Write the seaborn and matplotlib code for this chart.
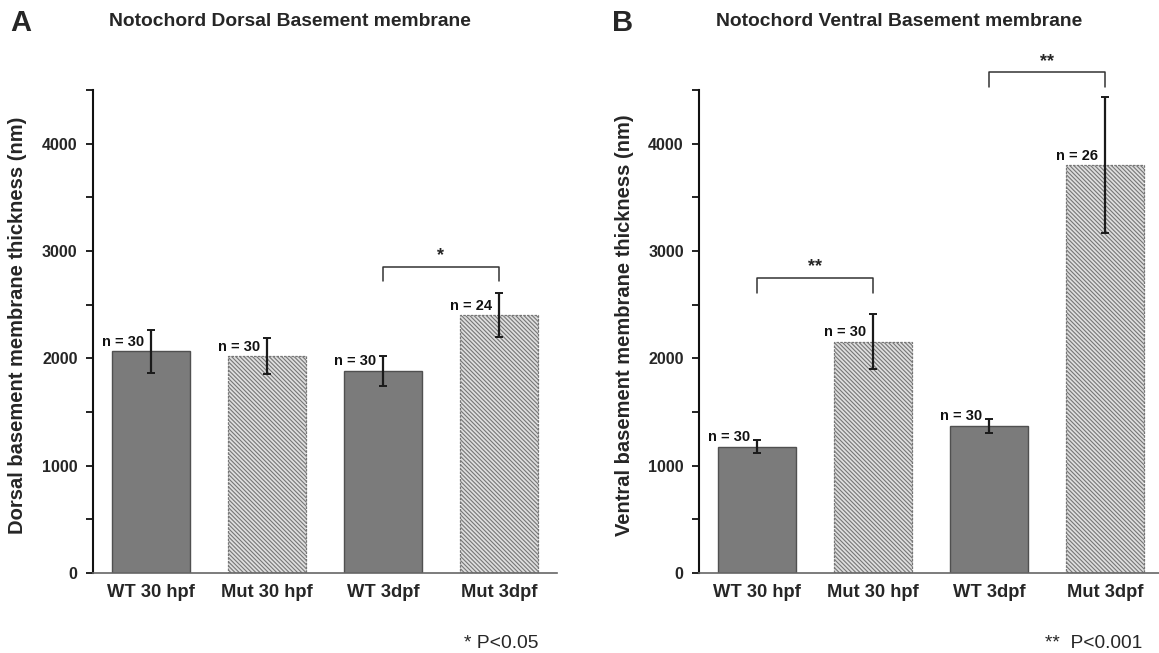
import matplotlib
matplotlib.use('Agg')
import matplotlib.pyplot as plt
import seaborn as sns
import pandas as pd
from matplotlib.ticker import MultipleLocator

# Données
groups = ['WT 30 hpf', 'Mut 30 hpf', 'WT 3dpf', 'Mut 3dpf']
dorsal_mean = [2065, 2020, 1885, 2400]
dorsal_err = [200, 170, 140, 205]
dorsal_n = [30, 30, 30, 24]
ventral_mean = [1178, 2155, 1371, 3800]
ventral_err = [60, 255, 68, 635]
ventral_n = [30, 30, 30, 26]

sns.set_style('ticks')
plt.rcParams['font.family'] = ['Liberation Sans', 'DejaVu Sans']
plt.rcParams['hatch.linewidth'] = 0.8
plt.rcParams['hatch.color'] = '#767676'

solid = '#7b7b7b'
palette = {'WT 30 hpf': solid, 'Mut 30 hpf': '#dedede', 'WT 3dpf': solid, 'Mut 3dpf': '#dedede'}

fig = plt.figure(figsize=(11.59, 6.53), dpi=100)
ax_a = fig.add_axes([0.0802, 0.1225, 0.4003, 0.7397])
ax_b = fig.add_axes([0.6031, 0.1225, 0.3969, 0.7397])


def draw_panel(ax, means, errs, ns, ylabel, xmax, xlab):
    df = pd.DataFrame({'group': groups, 'value': means})
    sns.barplot(data=df, x='group', y='value', hue='group', palette=palette,
                saturation=1, width=0.67, errorbar=None, legend=False, ax=ax, zorder=2)
    for i, p in enumerate(ax.patches):
        if i % 2 == 1:
            p.set_hatch('\\' * 8)
            p.set_edgecolor('#767676')
            p.set_linestyle((0, (2, 1)))
            p.set_linewidth(0.9)
        else:
            p.set_edgecolor('#505050')
            p.set_linewidth(1.0)
    ax.errorbar(range(len(groups)), means, yerr=errs, fmt='none',
                ecolor='#1a1a1a', elinewidth=1.6, capsize=3, capthick=1.4, zorder=3)
    for i, (m, n) in enumerate(zip(means, ns)):
        ax.text(i - 0.06, m + 88, f'n = {n}', ha='right', va='center',
                fontsize=10.5, fontweight='bold', color='#111111')

    ax.set_xlim(-0.5, xmax)
    ax.set_ylim(0, 4500)
    ax.yaxis.set_major_locator(MultipleLocator(1000))
    ax.yaxis.set_minor_locator(MultipleLocator(500))
    ax.tick_params(axis='y', which='both', direction='out', length=5, width=1.3,
                   color='#111111', labelsize=11.5, pad=6)
    ax.tick_params(axis='x', length=0, labelsize=13.2, pad=8)
    for lab in ax.get_yticklabels() + ax.get_xticklabels():
        lab.set_fontweight('bold')
    ax.set_xlabel('')
    ax.set_ylabel(ylabel, fontsize=14.5, fontweight='bold')
    ax.yaxis.set_label_coords(xlab, 0.513)
    sns.despine(ax=ax)
    ax.spines['left'].set_linewidth(1.5)
    ax.spines['left'].set_color('#111111')
    ax.spines['bottom'].set_linewidth(1.2)
    ax.spines['bottom'].set_color('#666666')


def bracket(ax, x0, x1, y, drop, label, ylab):
    ax.plot([x0, x0, x1, x1], [y - drop, y, y, y - drop], color='#333333',
            lw=1.1, clip_on=False)
    ax.text((x0 + x1) / 2, ylab, label, ha='center', va='center',
            fontsize=13, fontweight='bold', clip_on=False)


draw_panel(ax_a, dorsal_mean, dorsal_err, dorsal_n,
           'Dorsal basement membrane thickness (nm)', 3.5, -0.143)
draw_panel(ax_b, ventral_mean, ventral_err, ventral_n,
           'Ventral basement membrane thickness (nm)', 3.466, -0.142)

bracket(ax_a, 2, 3, 2847, 130, '*', 2960)
bracket(ax_b, 0, 1, 2744, 135, '**', 2850)
bracket(ax_b, 2, 3, 4665, 140, '**', 4765)

fig.text(290 / 1159, 1 - 21 / 653, 'Notochord Dorsal Basement membrane',
         ha='center', va='center', fontsize=13.9, fontweight='bold')
fig.text(899 / 1159, 1 - 21 / 653, 'Notochord Ventral Basement membrane',
         ha='center', va='center', fontsize=13.9, fontweight='bold')
fig.text(21 / 1159, 1 - 23 / 653, 'A', ha='center', va='center',
         fontsize=21, fontweight='bold')
fig.text(623 / 1159, 1 - 23 / 653, 'B', ha='center', va='center',
         fontsize=21, fontweight='bold')
fig.text(538 / 1159, 1 - 643 / 653, '* P<0.05', ha='right', va='center', fontsize=13.9)
fig.text(1142 / 1159, 1 - 643 / 653, '**  P<0.001', ha='right', va='center', fontsize=13.8)

fig.savefig('out.png', dpi=100)
